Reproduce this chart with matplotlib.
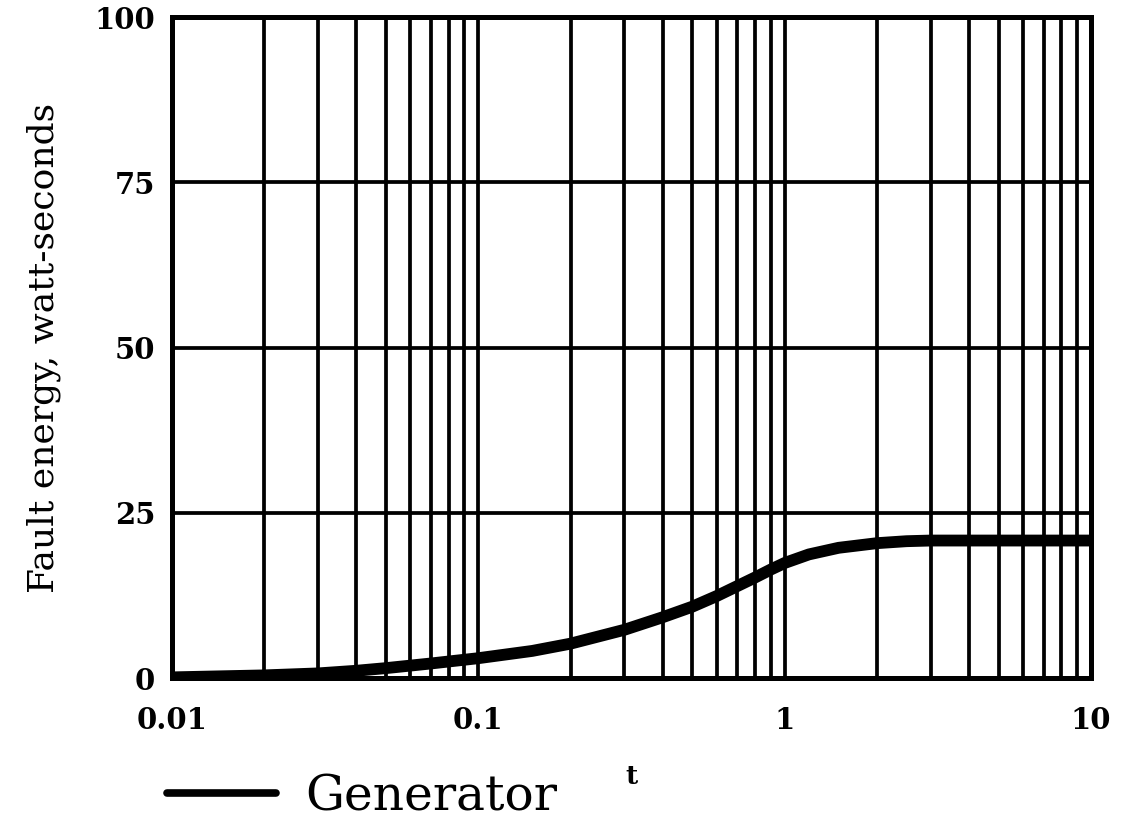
import matplotlib
matplotlib.use("Agg")
import matplotlib.pyplot as plt
from matplotlib.lines import Line2D
from matplotlib.ticker import FixedLocator, FixedFormatter, LogLocator, NullFormatter

# Fault energy delivered by the generator over time
time_s = [0.01, 0.02, 0.03, 0.04, 0.05, 0.07, 0.1, 0.15, 0.2, 0.3, 0.4, 0.5,
          0.6, 0.7, 0.8, 0.9, 1.0, 1.2, 1.5, 2.0, 2.5, 3.0, 5.0, 10.0]
energy_ws = [0.1, 0.4, 0.7, 1.1, 1.5, 2.2, 3.0, 4.1, 5.2, 7.3, 9.2, 10.8,
             12.4, 13.9, 15.2, 16.4, 17.4, 18.7, 19.7, 20.4, 20.7, 20.8,
             20.8, 20.8]

x_ticks = [0.01, 0.1, 1, 10]
x_tick_labels = ["0.01", "0.1", "1", "10"]
y_ticks = [0, 25, 50, 75, 100]
y_tick_labels = ["0", "25", "50", "75", "100"]

serif = ["DejaVu Serif"]

fig = plt.figure(figsize=(11.21, 8.30), dpi=100)
ax = fig.add_axes([0.1534, 0.1831, 0.9732 - 0.1534, 0.9795 - 0.1831])

ax.plot(time_s, energy_ws, color="black", lw=8.5, solid_capstyle="round",
        zorder=3)

ax.set_xscale("log")
ax.set_xlim(0.01, 10)
ax.set_ylim(0, 100)

ax.xaxis.set_major_locator(FixedLocator(x_ticks))
ax.xaxis.set_major_formatter(FixedFormatter(x_tick_labels))
ax.xaxis.set_minor_locator(LogLocator(base=10, subs=range(2, 10), numticks=20))
ax.xaxis.set_minor_formatter(NullFormatter())
ax.yaxis.set_major_locator(FixedLocator(y_ticks))
ax.yaxis.set_major_formatter(FixedFormatter(y_tick_labels))

ax.grid(True, which="both", axis="x", color="black", lw=2.7)
ax.grid(True, which="major", axis="y", color="black", lw=2.7)
ax.set_axisbelow(True)

for sp in ax.spines.values():
    sp.set_linewidth(3.6)
    sp.set_color("black")

ax.tick_params(which="both", length=0)
ax.tick_params(axis="x", pad=20)
ax.tick_params(axis="y", pad=12)
for lab in ax.get_xticklabels() + ax.get_yticklabels():
    lab.set_fontfamily(serif)
    lab.set_fontweight("bold")
    lab.set_fontsize(21)

ax.set_xlabel("t", fontfamily=serif, fontweight="bold", fontsize=19,
              labelpad=21)
ax.set_ylabel("Fault energy, watt-seconds", fontfamily=serif, fontsize=26,
              labelpad=24)

legend_handle = Line2D([], [], color="black", lw=5.5, solid_capstyle="round")
fig.legend(handles=[legend_handle], labels=["Generator"], loc="center left",
           bbox_to_anchor=(0.149, 0.04), frameon=False, handlelength=2.25,
           handletextpad=0.6, borderaxespad=0, borderpad=0,
           prop={"family": serif, "size": 35})

fig.savefig("out.png", dpi=100)
